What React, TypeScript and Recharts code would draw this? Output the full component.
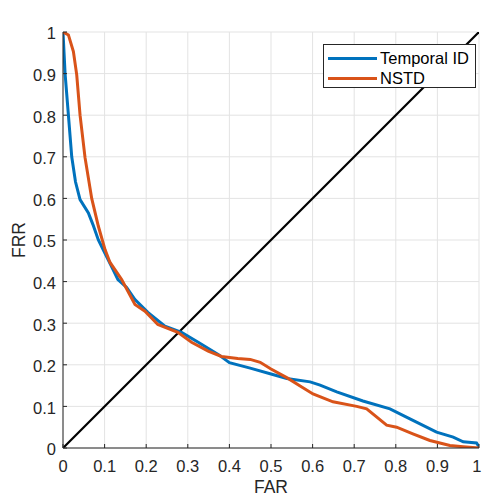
import React from 'react';
import { LineChart, Line, XAxis, YAxis, CartesianGrid } from 'recharts';

const TICKS = [0, 0.1, 0.2, 0.3, 0.4, 0.5, 0.6, 0.7, 0.8, 0.9, 1];
const TICK_LABELS = ['0', '0.1', '0.2', '0.3', '0.4', '0.5', '0.6', '0.7', '0.8', '0.9', '1'];

const temporalX = [0, 0.005, 0.013, 0.021, 0.03, 0.041, 0.061, 0.072, 0.085, 0.1, 0.115, 0.132, 0.153, 0.173, 0.204, 0.245, 0.285, 0.325, 0.373, 0.4, 0.45, 0.5, 0.538, 0.594, 0.618, 0.658, 0.721, 0.786, 0.834, 0.898, 0.938, 0.962, 0.994, 1];
const temporalY = [1, 0.9, 0.8, 0.7, 0.64, 0.597, 0.565, 0.537, 0.5, 0.47, 0.44, 0.405, 0.386, 0.357, 0.326, 0.293, 0.278, 0.254, 0.225, 0.205, 0.192, 0.178, 0.167, 0.159, 0.151, 0.135, 0.113, 0.094, 0.07, 0.038, 0.026, 0.015, 0.012, 0.003];

const nstdX = [0, 0.013, 0.025, 0.033, 0.041, 0.053, 0.069, 0.085, 0.101, 0.113, 0.141, 0.156, 0.173, 0.197, 0.228, 0.276, 0.309, 0.349, 0.381, 0.42, 0.45, 0.474, 0.5, 0.54, 0.57, 0.601, 0.649, 0.706, 0.73, 0.778, 0.802, 0.841, 0.882, 0.93, 0.962, 1];
const nstdY = [1, 0.993, 0.953, 0.897, 0.8, 0.698, 0.6, 0.533, 0.477, 0.446, 0.405, 0.377, 0.345, 0.329, 0.297, 0.278, 0.254, 0.233, 0.22, 0.215, 0.213, 0.206, 0.19, 0.168, 0.149, 0.13, 0.111, 0.1, 0.094, 0.055, 0.05, 0.034, 0.018, 0.006, 0.003, 0];

const diagX = [0, 1];
const diagY = [0, 1];

const SERIES_NAMES = ['Temporal ID', 'NSTD'];
const COLORS = ['#0072BD', '#D95319'];

const toPts = (xs: number[], ys: number[]) => xs.map((x, i) => ({ x, y: ys[i] }));
const temporalData = toPts(temporalX, temporalY);
const nstdData = toPts(nstdX, nstdY);
const diagData = toPts(diagX, diagY);

const FONT = '"Liberation Sans", Arial, Helvetica, sans-serif';
const AX = '#262626';
const TL = 4;
const FS = 16.5;

const label = (v: number) => {
  const i = TICKS.findIndex((t) => Math.abs(t - v) < 1e-9);
  return i >= 0 ? TICK_LABELS[i] : String(v);
};

const BottomTick = (p: any) => {
  const last = Math.abs(p.payload.value - 1) < 1e-9;
  return (
    <g>
      <line x1={p.x} y1={p.y} x2={p.x} y2={p.y - TL} stroke={AX} strokeWidth={1} />
      <text
        x={last ? p.x + 2.5 : p.x}
        y={p.y + 12.5}
        dy="0.71em"
        textAnchor={last ? 'end' : 'middle'}
        fontSize={FS}
        fontFamily={FONT}
        fill={AX}
      >
        {label(p.payload.value)}
      </text>
    </g>
  );
};
const TopTick = (p: any) => (
  <line x1={p.x} y1={p.y} x2={p.x} y2={p.y + TL} stroke={AX} strokeWidth={1} />
);
const LeftTick = (p: any) => (
  <g>
    <line x1={p.x} y1={p.y} x2={p.x + TL} y2={p.y} stroke={AX} strokeWidth={1} />
    <text x={p.x - 7} y={p.y} dy="0.45em" textAnchor="end" fontSize={FS} fontFamily={FONT} fill={AX}>
      {label(p.payload.value)}
    </text>
  </g>
);
const RightTick = (p: any) => (
  <line x1={p.x} y1={p.y} x2={p.x - TL} y2={p.y} stroke={AX} strokeWidth={1} />
);

const LegendBox = () => (
  <div
    style={{
      position: 'absolute',
      left: 323,
      top: 44,
      width: 151,
      height: 42,
      background: '#fff',
      border: `1px solid ${AX}`,
      fontFamily: FONT,
      fontSize: 16.5,
      color: '#000',
    }}
  >
    {SERIES_NAMES.map((n, i) => (
      <div key={n} style={{ position: 'absolute', left: 4, top: 3 + i * 20, height: 20, display: 'flex', alignItems: 'center', whiteSpace: 'nowrap' }}>
        <div style={{ width: 49, height: 3, background: COLORS[i], marginRight: 3 }} />
        <span style={{ lineHeight: '20px' }}>{n}</span>
      </div>
    ))}
  </div>
);

export default function App() {
  return (
    <div style={{ position: 'absolute', left: 0, top: 0, width: 482, height: 497, background: '#fff' }}>
      <LineChart width={482} height={497} margin={{ top: 32, right: 3, left: 0, bottom: 0 }}>
        <CartesianGrid stroke="#e3e3e3" strokeWidth={1} xAxisId="b" yAxisId="l" />
        <XAxis
          xAxisId="b"
          dataKey="x"
          type="number"
          domain={[0, 1]}
          ticks={TICKS}
          height={49}
          tickSize={0}
          tickMargin={0}
          tickLine={false}
          axisLine={{ stroke: AX, strokeWidth: 1 }}
          tick={BottomTick}
          interval={0}
          allowDataOverflow
          label={{
            content: (props: any) => {
              const vb = props.viewBox;
              return (
                <text x={vb.x + vb.width / 2} y={493} textAnchor="middle" fontSize={17.5} fontFamily={FONT} fill={AX}>
                  FAR
                </text>
              );
            },
          }}
        />
        <XAxis
          xAxisId="t"
          orientation="top"
          dataKey="x"
          type="number"
          domain={[0, 1]}
          ticks={TICKS}
          height={0}
          tickSize={0}
          tickMargin={0}
          tickLine={false}
          axisLine={{ stroke: AX, strokeWidth: 1 }}
          tick={TopTick}
          interval={0}
          allowDataOverflow
          label={{
            content: (props: any) => {
              const vb = props.viewBox;
              return (
                <text x={vb.x + vb.width / 2} y={vb.y - 7} textAnchor="middle" fontSize={18} fontWeight="bold" fontFamily={FONT} fill="#000">
                  ROC of temporal ID and NSTD
                </text>
              );
            },
          }}
        />
        <YAxis
          yAxisId="l"
          type="number"
          domain={[0, 1]}
          ticks={TICKS}
          width={63}
          tickSize={0}
          tickMargin={0}
          tickLine={false}
          axisLine={{ stroke: AX, strokeWidth: 1 }}
          tick={LeftTick}
          interval={0}
          allowDataOverflow
          label={{
            content: (props: any) => {
              const vb = props.viewBox;
              const cy = vb.y + vb.height / 2;
              return (
                <text x={18.5} y={cy} textAnchor="middle" dominantBaseline="central" transform={`rotate(-90, 18.5, ${cy})`} fontSize={17.5} fontFamily={FONT} fill={AX}>
                  FRR
                </text>
              );
            },
          }}
        />
        <YAxis
          yAxisId="r"
          orientation="right"
          type="number"
          domain={[0, 1]}
          ticks={TICKS}
          width={0}
          tickSize={0}
          tickMargin={0}
          tickLine={false}
          axisLine={{ stroke: AX, strokeWidth: 1 }}
          tick={RightTick}
          interval={0}
          allowDataOverflow
        />
        <Line xAxisId="b" yAxisId="l" data={diagData} dataKey="y" type="linear" stroke="#000" strokeWidth={2.2} dot={false} isAnimationActive={false} legendType="none" name="diag" />
        <Line xAxisId="b" yAxisId="l" data={temporalData} dataKey="y" type="linear" stroke={COLORS[0]} strokeWidth={3} dot={false} isAnimationActive={false} name={SERIES_NAMES[0]} />
        <Line xAxisId="b" yAxisId="l" data={nstdData} dataKey="y" type="linear" stroke={COLORS[1]} strokeWidth={3} dot={false} isAnimationActive={false} name={SERIES_NAMES[1]} />
      </LineChart>
      <LegendBox />
    </div>
  );
}
